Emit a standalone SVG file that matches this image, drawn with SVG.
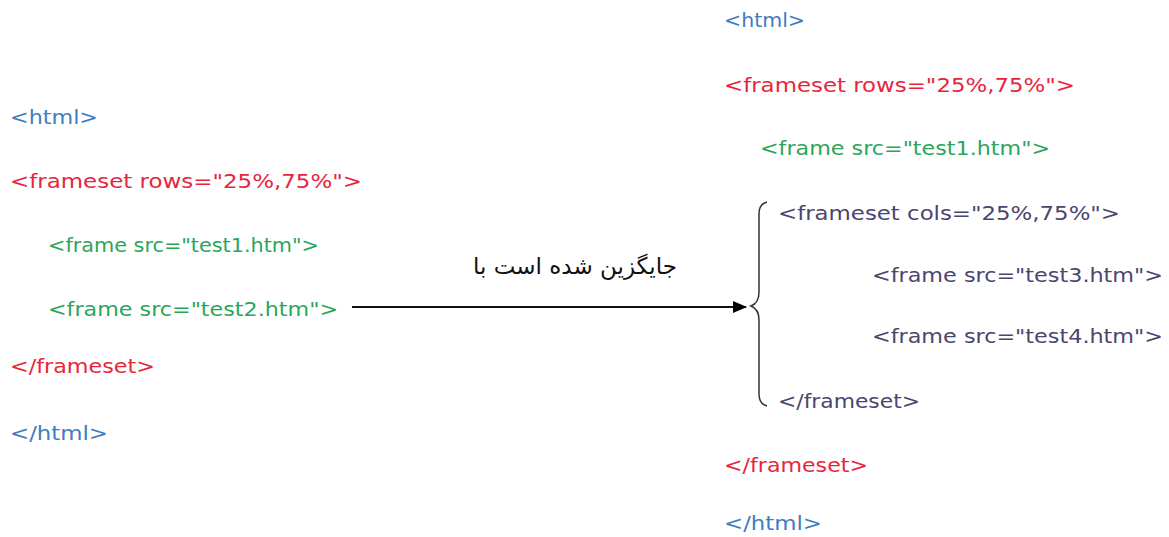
<svg xmlns="http://www.w3.org/2000/svg" width="1169" height="537" viewBox="0 0 1169 537">
<style>
text{font-family:"DejaVu Sans","Noto Sans",sans-serif;font-size:20px}
.b{fill:#3f7cc0}.r{fill:#e8253c}.g{fill:#2aa65a}.p{fill:#4b4570}
.fa{font-family:"DejaVu Sans","Noto Sans",sans-serif;font-size:23px;fill:#111}
</style>
<defs>
<marker id="ah" markerWidth="14" markerHeight="12" refX="13" refY="6" orient="auto" markerUnits="userSpaceOnUse">
<path d="M0,0 L14,6 L0,12 Z" fill="#000"/>
</marker>
</defs>
<rect width="1169" height="537" fill="#fff"/>
<g id="left">
<text class="b" x="10" y="124" textLength="88" lengthAdjust="spacingAndGlyphs">&lt;html&gt;</text>
<text class="r" x="10" y="188" textLength="352" lengthAdjust="spacingAndGlyphs">&lt;frameset rows="25%,75%"&gt;</text>
<text class="g" x="48" y="252" textLength="271" lengthAdjust="spacingAndGlyphs">&lt;frame src="test1.htm"&gt;</text>
<text class="g" x="48" y="316" textLength="290" lengthAdjust="spacingAndGlyphs">&lt;frame src="test2.htm"&gt;</text>
<text class="r" x="10" y="373" textLength="145" lengthAdjust="spacingAndGlyphs">&lt;/frameset&gt;</text>
<text class="b" x="10" y="440" textLength="98" lengthAdjust="spacingAndGlyphs">&lt;/html&gt;</text>
</g>
<g id="right">
<text class="b" x="724" y="27" textLength="81" lengthAdjust="spacingAndGlyphs">&lt;html&gt;</text>
<text class="r" x="724" y="92" textLength="351" lengthAdjust="spacingAndGlyphs">&lt;frameset rows="25%,75%"&gt;</text>
<text class="g" x="760" y="155" textLength="290" lengthAdjust="spacingAndGlyphs">&lt;frame src="test1.htm"&gt;</text>
<text class="p" x="778" y="220" textLength="342" lengthAdjust="spacingAndGlyphs">&lt;frameset cols="25%,75%"&gt;</text>
<text class="p" x="872" y="282" textLength="291" lengthAdjust="spacingAndGlyphs">&lt;frame src="test3.htm"&gt;</text>
<text class="p" x="872" y="343" textLength="291" lengthAdjust="spacingAndGlyphs">&lt;frame src="test4.htm"&gt;</text>
<text class="p" x="778" y="408" textLength="142" lengthAdjust="spacingAndGlyphs">&lt;/frameset&gt;</text>
<text class="r" x="724" y="472" textLength="144" lengthAdjust="spacingAndGlyphs">&lt;/frameset&gt;</text>
<text class="b" x="724" y="530" textLength="98" lengthAdjust="spacingAndGlyphs">&lt;/html&gt;</text>
</g>
<g id="label">
<text class="fa" x="575" y="274" text-anchor="middle">جایگزین شده است با</text>
</g>
<g id="connectors">
<line x1="352" y1="307" x2="746" y2="307" stroke="#111" stroke-width="2" marker-end="url(#ah)"/>
<path d="M767,202 Q759,204 759,214 L759,292 Q759,303 751,306 Q759,309 759,320 L759,394 Q759,404 767,406" fill="none" stroke="#333" stroke-width="1.5"/>
</g>
</svg>
